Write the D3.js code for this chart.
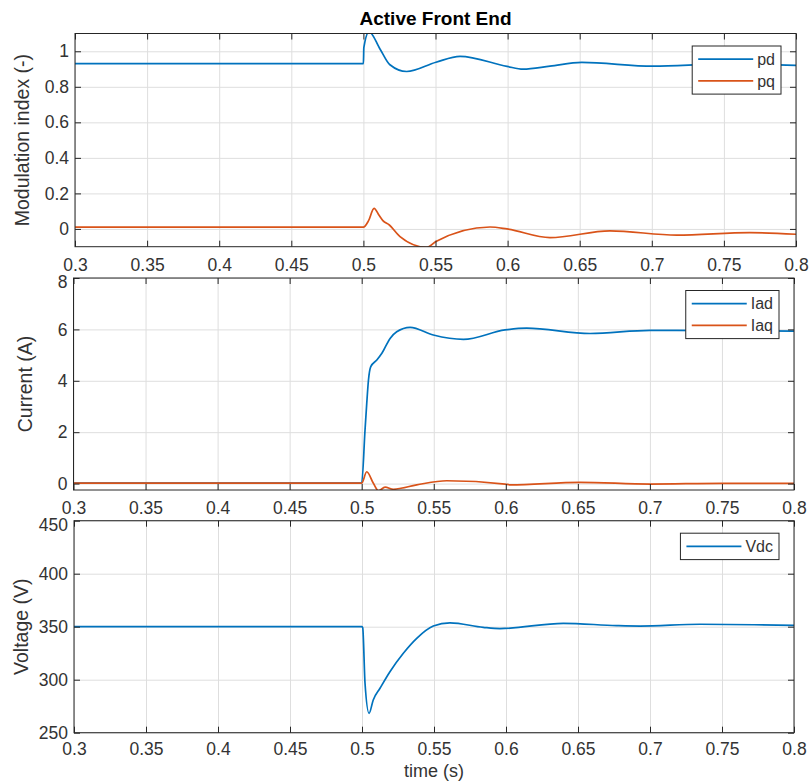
<!DOCTYPE html>
<html>
<head>
<meta charset="utf-8">
<script src="https://cdn.jsdelivr.net/npm/d3@7"></script>
<style>
  html, body { margin: 0; padding: 0; background: #ffffff; }
  svg { display: block; font-family: "Liberation Sans", Arial, Helvetica, sans-serif; }
</style>
</head>
<body>
<svg id="chart" width="811" height="781"></svg>
<script>
// ---- shared time axis ----
const xDomain = [0.3, 0.8];
const xTicks = [0.3, 0.35, 0.4, 0.45, 0.5, 0.55, 0.6, 0.65, 0.7, 0.75, 0.8];
const xTickLabels = ["0.3", "0.35", "0.4", "0.45", "0.5", "0.55", "0.6", "0.65", "0.7", "0.75", "0.8"];

// ---- modulation indices ----
const pdTime = [0.3, 0.5, 0.5003, 0.5039, 0.5115, 0.5184, 0.53, 0.5503, 0.567, 0.5996, 0.6107, 0.6294, 0.6514, 0.7008, 0.75, 0.8];
const pdValues = [0.93, 0.93, 1.02, 1.11, 1.013, 0.924, 0.886, 0.938, 0.971, 0.915, 0.899, 0.916, 0.937, 0.916, 0.929, 0.921];
const pqTime = [0.3, 0.5, 0.5035, 0.5074, 0.511, 0.5135, 0.518, 0.5254, 0.5439, 0.5503, 0.5878, 0.5996, 0.6294, 0.671, 0.7173, 0.768, 0.8];
const pqValues = [0.01, 0.01, 0.045, 0.116, 0.075, 0.047, 0.022, -0.043, -0.104, -0.071, 0.011, 0.0, -0.049, -0.011, -0.035, -0.021, -0.03];

// ---- dq currents ----
const iadTime = [0.3, 0.5, 0.5023, 0.5035, 0.5047, 0.5063, 0.5105, 0.514, 0.5197, 0.5243, 0.5336, 0.5497, 0.5706, 0.5995, 0.6145, 0.6585, 0.7001, 0.75, 0.8];
const iadValues = [0.02, 0.02, 2.08, 3.12, 4.03, 4.55, 4.81, 5.07, 5.65, 5.91, 6.08, 5.78, 5.61, 5.98, 6.05, 5.84, 5.96, 5.95, 5.93];
const iaqTime = [0.3, 0.5, 0.5035, 0.5081, 0.5116, 0.5162, 0.522, 0.5382, 0.559, 0.5995, 0.603, 0.6516, 0.7, 0.75, 0.8];
const iaqValues = [0.02, 0.02, 0.46, 0.01, -0.28, -0.14, -0.22, -0.05, 0.11, -0.02, -0.05, 0.05, -0.02, 0.01, 0.01];

// ---- DC-link voltage ----
const vdcTime = [0.3, 0.5, 0.5005, 0.5021, 0.5049, 0.5078, 0.5125, 0.5194, 0.5287, 0.538, 0.5495, 0.5611, 0.5842, 0.5958, 0.6398, 0.6769, 0.6931, 0.7347, 0.8];
const vdcValues = [350, 350, 349, 296.6, 268.3, 280.9, 291.9, 307.5, 324.9, 339, 350.6, 353.7, 349.4, 348.2, 353.2, 351, 350.6, 352.3, 351.3];

// ---- per-panel axis settings ----
const yTicksMod = [0, 0.2, 0.4, 0.6, 0.8, 1];
const yTickLabelsMod = ["0", "0.2", "0.4", "0.6", "0.8", "1"];
const yTicksCur = [0, 2, 4, 6, 8];
const yTickLabelsCur = ["0", "2", "4", "6", "8"];
const yTicksVolt = [250, 300, 350, 400, 450];
const yTickLabelsVolt = ["250", "300", "350", "400", "450"];

const BLUE = "#0072BD";
const ORANGE = "#D95319";
const AXIS = "#262626";
const TEXT = "#333333";
const GRID = "#dedede";

const panels = [
  {
    box: { l: 75, r: 796, t: 33.5, b: 246.7 },
    yDomain: [-0.1, 1.1], yTicks: yTicksMod, yTickLabels: yTickLabelsMod,
    yLabel: "Modulation index (-)", yLabelX: 29, topLabelShift: 0, xPad: 12,
    series: [
      { name: "pd", t: pdTime, v: pdValues, color: BLUE },
      { name: "pq", t: pqTime, v: pqValues, color: ORANGE }
    ]
  },
  {
    box: { l: 73.5, r: 794, t: 278, b: 490 },
    yDomain: [-0.25, 8], yTicks: yTicksCur, yTickLabels: yTickLabelsCur,
    yLabel: "Current (A)", yLabelX: 32, topLabelShift: 3.5, xPad: 12,
    series: [
      { name: "Iad", t: iadTime, v: iadValues, color: BLUE },
      { name: "Iaq", t: iaqTime, v: iaqValues, color: ORANGE }
    ]
  },
  {
    box: { l: 74, r: 794, t: 520.7, b: 732.7 },
    yDomain: [250, 450], yTicks: yTicksVolt, yTickLabels: yTickLabelsVolt,
    yLabel: "Voltage (V)", yLabelX: 27.5, topLabelShift: 4, xPad: 10,
    series: [
      { name: "Vdc", t: vdcTime, v: vdcValues, color: BLUE }
    ]
  }
];

const svg = d3.select("#chart");
svg.append("rect").attr("width", 811).attr("height", 781).attr("fill", "#ffffff");

const TICK_FONT = 17.5;
const LABEL_FONT = 19.5;
const LEGEND_FONT = 16;

panels.forEach((p, pi) => {
  const { l, r, t, b } = p.box;
  const x = d3.scaleLinear().domain(xDomain).range([l, r]);
  const y = d3.scaleLinear().domain(p.yDomain).range([b, t]);
  const g = svg.append("g");

  // white plotting area
  g.append("rect").attr("x", l).attr("y", t).attr("width", r - l).attr("height", b - t).attr("fill", "#fff");

  // grid
  const gridX = g.append("g").attr("transform", `translate(0,${b})`)
    .call(d3.axisBottom(x).tickValues(xTicks).tickSize(-(b - t)).tickFormat(""));
  const gridY = g.append("g").attr("transform", `translate(${l},0)`)
    .call(d3.axisLeft(y).tickValues(p.yTicks).tickSize(-(r - l)).tickFormat(""));
  [gridX, gridY].forEach(s => {
    s.select(".domain").remove();
    s.selectAll(".tick line").attr("stroke", GRID).attr("stroke-width", 1);
  });

  // traces
  const clipId = "clip" + pi;
  g.append("clipPath").attr("id", clipId)
    .append("rect").attr("x", l).attr("y", t).attr("width", r - l).attr("height", b - t);
  const line = d3.line().x(d => x(d[0])).y(d => y(d[1])).curve(d3.curveMonotoneX);
  p.series.forEach(s => {
    const pts = s.t.map((tv, i) => [tv, s.v[i]]);
    g.append("path").datum(pts)
      .attr("clip-path", `url(#${clipId})`)
      .attr("fill", "none").attr("stroke", s.color).attr("stroke-width", 1.7)
      .attr("stroke-linejoin", "round").attr("d", line);
  });

  // inward ticks on all four sides
  const tk = 6;
  const sides = [
    g.append("g").attr("transform", `translate(0,${b})`).call(d3.axisBottom(x).tickValues(xTicks).tickSize(-tk).tickFormat("")),
    g.append("g").attr("transform", `translate(0,${t})`).call(d3.axisTop(x).tickValues(xTicks).tickSize(-tk).tickFormat("")),
    g.append("g").attr("transform", `translate(${l},0)`).call(d3.axisLeft(y).tickValues(p.yTicks).tickSize(-tk).tickFormat("")),
    g.append("g").attr("transform", `translate(${r},0)`).call(d3.axisRight(y).tickValues(p.yTicks).tickSize(-tk).tickFormat(""))
  ];
  sides.forEach(s => {
    s.select(".domain").remove();
    s.selectAll(".tick line").attr("stroke", AXIS).attr("stroke-width", 1);
  });

  // box
  g.append("rect").attr("x", l).attr("y", t).attr("width", r - l).attr("height", b - t)
    .attr("fill", "none").attr("stroke", AXIS).attr("stroke-width", 1);

  // tick labels
  const xl = g.append("g").attr("transform", `translate(0,${b})`)
    .call(d3.axisBottom(x).tickValues(xTicks).tickSize(0).tickPadding(p.xPad).tickFormat((d, i) => xTickLabels[i]));
  const yl = g.append("g").attr("transform", `translate(${l},0)`)
    .call(d3.axisLeft(y).tickValues(p.yTicks).tickSize(0).tickPadding(6).tickFormat((d, i) => p.yTickLabels[i]));
  [xl, yl].forEach(s => {
    s.select(".domain").remove();
    s.selectAll(".tick text").attr("fill", TEXT).style("font-size", TICK_FONT + "px")
      .style("font-family", '"Liberation Sans", Arial, Helvetica, sans-serif');
  });
  // keep the topmost y label clear of the tick labels of the panel above
  const lastIdx = p.yTicks.length - 1;
  yl.selectAll(".tick text").filter((d, i) => i === lastIdx)
    .attr("y", p.topLabelShift);

  // y label
  g.append("text")
    .attr("transform", `translate(${p.yLabelX},${(t + b) / 2}) rotate(-90)`)
    .attr("text-anchor", "middle").attr("fill", TEXT)
    .style("font-size", LABEL_FONT + "px")
    .text(p.yLabel);

  // legend
  const lg = g.append("g");
  const rowH = 21.7, pad = 13.2, lineLen = 55, padL = 6, gap = 4, padR = 6;
  const texts = p.series.map((s, i) => lg.append("text")
    .attr("y", 0).attr("dy", "0.35em").attr("fill", TEXT)
    .style("font-size", LEGEND_FONT + "px").text(s.name));
  const tw = d3.max(texts, tx => tx.node().getComputedTextLength());
  const bw = padL + lineLen + gap + tw + padR;
  const bh = 2 * pad + (p.series.length - 1) * rowH;
  const bx = r - 15 - bw, by = t + 12.5;
  lg.insert("rect", "text").attr("x", bx).attr("y", by).attr("width", bw).attr("height", bh)
    .attr("fill", "#fff").attr("stroke", AXIS).attr("stroke-width", 1);
  p.series.forEach((s, i) => {
    const cy = by + pad + i * rowH;
    lg.append("line").attr("x1", bx + padL).attr("x2", bx + padL + lineLen)
      .attr("y1", cy).attr("y2", cy).attr("stroke", s.color).attr("stroke-width", 1.7);
    texts[i].attr("x", bx + padL + lineLen + gap).attr("y", cy);
  });
});

// title and shared x label
svg.append("text")
  .attr("x", (panels[0].box.l + panels[0].box.r) / 2).attr("y", 25)
  .attr("text-anchor", "middle").attr("fill", "#000")
  .style("font-size", "19px").style("font-weight", "bold")
  .text("Active Front End");

svg.append("text")
  .attr("x", (panels[2].box.l + panels[2].box.r) / 2).attr("y", 777)
  .attr("text-anchor", "middle").attr("fill", TEXT)
  .style("font-size", "18px")
  .text("time (s)");
</script>
</body>
</html>
